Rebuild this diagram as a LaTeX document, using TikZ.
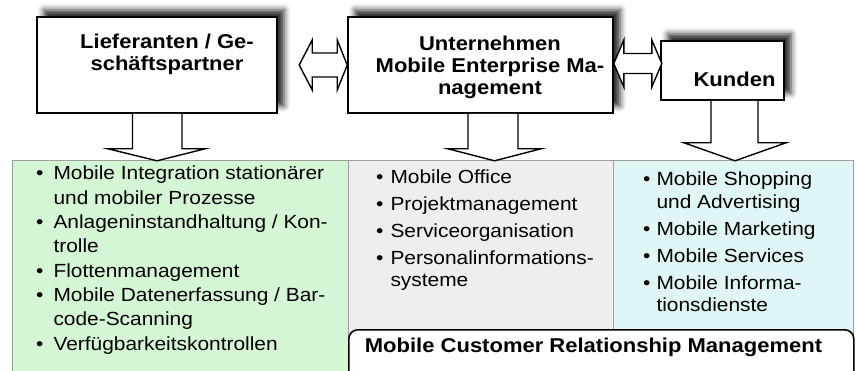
\documentclass[tikz,border=0pt]{standalone}
\usepackage{fontspec}
\setmainfont{Liberation Sans}[FakeStretch=1.1]
\usetikzlibrary{shadows.blur}
\definecolor{panelgreen}{RGB}{212,246,212}
\definecolor{panelgray}{RGB}{238,238,238}
\definecolor{panelcyan}{RGB}{224,245,245}

\begin{document}
\begin{tikzpicture}[x=1pt, y=-1pt,
  box/.style={draw=black, line width=1.6pt, fill=white, inner sep=0pt,
    blur shadow={shadow xshift=7pt, shadow yshift=7pt, shadow blur radius=6pt, shadow opacity=85}},
  ttl/.style={font=\fontsize{20}{22}\selectfont\bfseries, align=center, inner sep=0pt},
  panel/.style={draw=black!38, line width=1.2pt, inner sep=0pt, anchor=north west, minimum height=240pt},
  lst/.style={font=\fontsize{19}{22}\selectfont, inner sep=0pt, anchor=base west},
  blk/.style={draw=black, line width=1.4pt, fill=white, line join=miter}
]
\useasboundingbox (0,0) rectangle (856,371);
\node[panel, fill=panelgreen, minimum width=336pt] (gr) at (12,160) {};
\node[panel, fill=panelgray, minimum width=265pt] (gy) at (348,160) {};
\node[panel, fill=panelcyan, minimum width=240pt] (cy) at (613,160) {};
\node[draw=black, line width=1.6pt, fill=white, rounded corners=9pt, anchor=north west,
  minimum width=505pt, minimum height=70pt] (mcrm) at (348,329) {};
\node[ttl, anchor=base] (mcrmT) at (593.5,352) {Mobile Customer Relationship Management};

\node[lst, font=\fontsize{19}{24.3}\selectfont] (grL) at (36,180) {\begin{tabular}[t]{@{}l@{\hspace{10pt}}l@{}}
\textbullet & Mobile Integration stationärer\\
 & und mobiler Prozesse\\
\textbullet & Anlageninstandhaltung / Kon-\\
 & trolle\\
\textbullet & Flottenmanagement\\
\textbullet & Mobile Datenerfassung / Bar-\\
 & code-Scanning\\
\textbullet & Verfügbarkeitskontrollen
\end{tabular}};
\node[lst] (gyL) at (376,184) {\begin{tabular}[t]{@{}l@{\hspace{7pt}}l@{}}
\textbullet & Mobile Office\\[5pt]
\textbullet & Projektmanagement\\[5pt]
\textbullet & Serviceorganisation\\[5pt]
\textbullet & Personalinformations-\\
 & systeme
\end{tabular}};
\node[lst, font=\fontsize{19}{22.5}\selectfont] (cyL) at (643,186) {\begin{tabular}[t]{@{}l@{\hspace{6pt}}l@{}}
\textbullet & Mobile Shopping\\
 & und Advertising\\[4.5pt]
\textbullet & Mobile Marketing\\[4.5pt]
\textbullet & Mobile Services\\[4.5pt]
\textbullet & Mobile Informa-\\
 & tionsdienste
\end{tabular}};

\node[box, minimum width=240pt, minimum height=96pt] (lief) at (157,65) {};
\node[box, minimum width=265pt, minimum height=96pt] (unt) at (480.5,65) {};
\node[box, minimum width=123pt, minimum height=59pt] (kun) at (722.5,70.5) {};
\node[ttl] (liefT) at (167,54) {Lieferanten / Ge-\\schäftspartner};
\node[ttl] (untT) at (490,67.5) {Unternehmen\\Mobile Enterprise Ma-\\nagement};
\node[ttl] (kunT) at (734.5,79) {Kunden};

\draw[blk, shift={(unt.west)}] (0,0) -- (-10,-25) -- (-10,-12) -- (-35,-12) -- (-35,-25) -- (-48,0)
  -- (-35,25) -- (-35,12) -- (-10,12) -- (-10,25) -- cycle;
\draw[blk, shift={(unt.east)}] (0,-1.5) -- (10,-25) -- (10,-11.5) -- (38,-11.5) -- (38,-25) -- (48,-1.5)
  -- (38,22) -- (38,8.5) -- (10,8.5) -- (10,22) -- cycle;
\draw[blk, shift={(lief.south)}] (-24.5,0) -- (-24.5,35) -- (-49,35) -- (0,47) -- (48,35) -- (25,35) -- (25,0);
\draw[blk, shift={(unt.south)}] (-12.5,0) -- (-12.5,35) -- (-32.5,35) -- (14,47) -- (60.5,35) -- (37.5,35) -- (37.5,0);
\draw[blk, shift={(kun.south)}] (-11.5,0) -- (-11.5,42) -- (-38.5,42) -- (12.5,60) -- (63.5,42) -- (35.5,42) -- (35.5,0);
\end{tikzpicture}
\end{document}
